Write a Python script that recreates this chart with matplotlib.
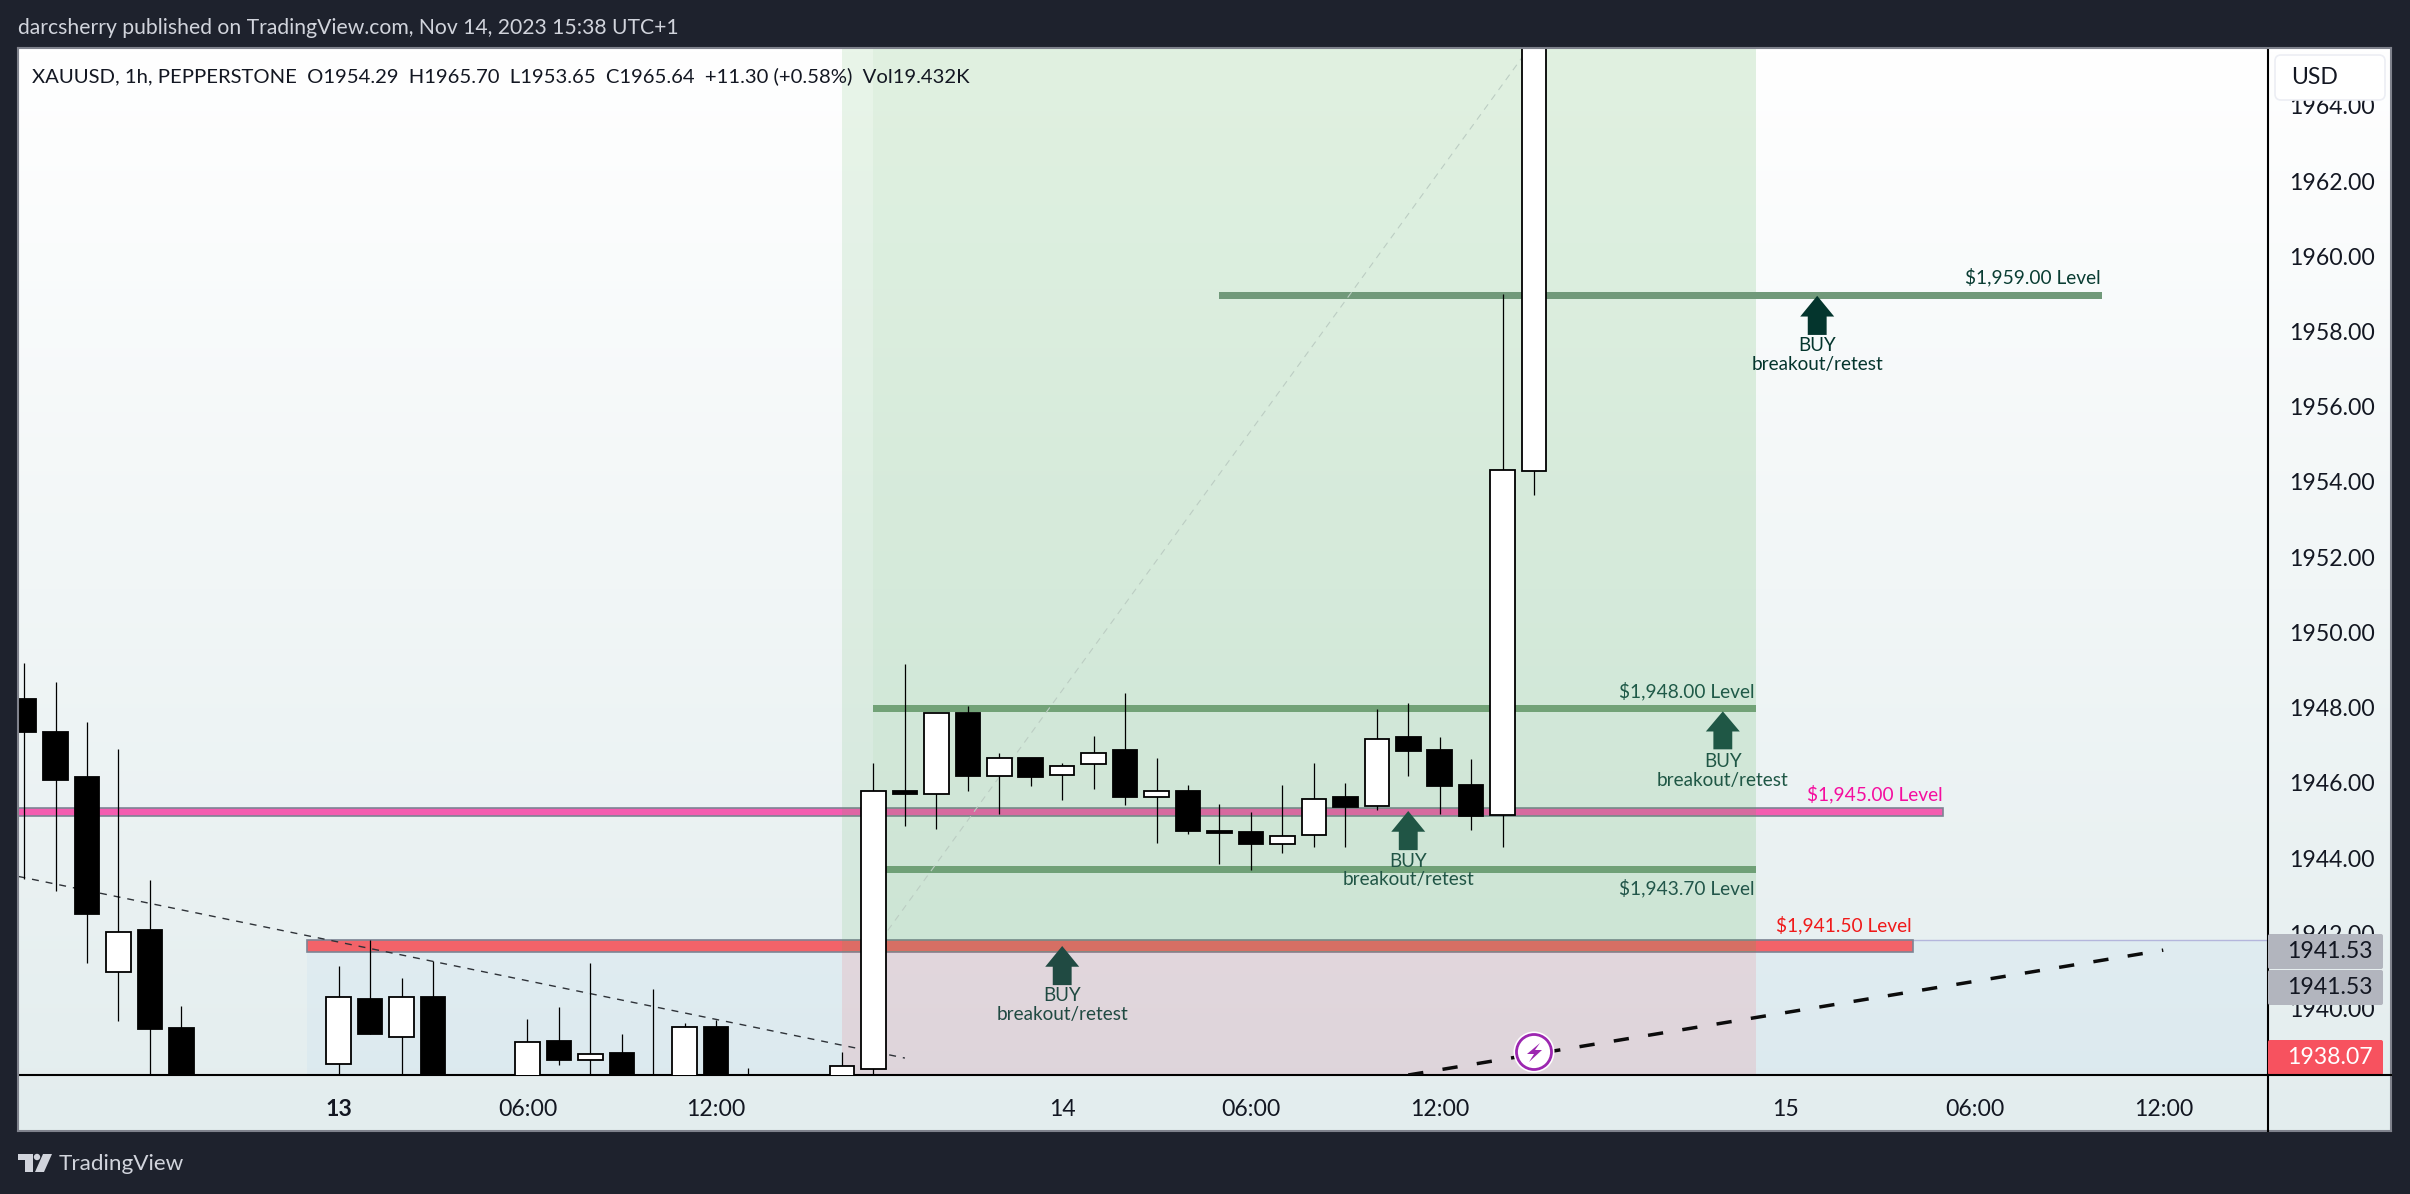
import numpy as np
import matplotlib
matplotlib.use("Agg")
import matplotlib.pyplot as plt
from matplotlib.patches import Rectangle, Circle, Polygon, FancyBboxPatch

W, H = 2410, 1194
BG = "#1e222d"
FONT = "Lato"
plt.rcParams["font.family"] = [FONT, "DejaVu Sans"]

# ---------- data ----------
bar_index = [-10, -9, -8, -7, -6, -5, 0, 1, 2, 3, 6, 7, 8, 9, 10, 11, 12, 13, 16, 17, 18, 19, 20, 21, 22,
             23, 24, 25, 26, 27, 28, 29, 30, 31, 32, 33, 34, 35, 36, 37, 38]
opens = [1948.23, 1947.36, 1946.15, 1940.97, 1942.08, 1939.48, 1938.51, 1940.25, 1939.25, 1940.31, 1937.6,
         1939.13, 1938.63, 1938.81, 1937.6, 1937.6, 1939.51, 1937.8, 1937.9, 1938.40, 1945.78, 1945.71, 1947.86,
         1946.19, 1946.66, 1946.22, 1946.51, 1946.87, 1945.62, 1945.78, 1944.71, 1944.69, 1944.38, 1944.60,
         1945.62, 1945.37, 1947.22, 1946.87, 1945.94, 1945.14, 1954.29]
highs = [1949.19, 1948.68, 1947.62, 1946.90, 1943.42, 1940.06, 1941.13, 1941.81, 1940.81, 1941.25, 1939.72,
         1940.03, 1941.21, 1939.32, 1940.51, 1939.60, 1939.70, 1938.42, 1938.84, 1946.53, 1949.16, 1947.85, 1948.04,
         1946.79, 1946.66, 1946.53, 1947.25, 1948.39, 1946.66, 1945.94, 1945.44, 1945.23, 1945.94, 1946.53,
         1946.00, 1947.97, 1948.12, 1947.22, 1946.63, 1959.00, 1965.70]
lows = [1943.43, 1943.13, 1941.21, 1939.67, 1937.5, 1937.0, 1937.8, 1939.32, 1937.8, 1937.0, 1937.5,
        1938.50, 1937.8, 1937.0, 1937.0, 1937.2, 1937.0, 1937.2, 1937.5, 1937.9, 1944.86, 1944.78, 1945.77,
        1945.17, 1945.92, 1945.54, 1945.84, 1945.41, 1944.40, 1944.64, 1943.84, 1943.68, 1944.13, 1944.29,
        1944.29, 1945.28, 1946.18, 1945.17, 1944.75, 1944.29, 1953.65]
closes = [1947.36, 1946.08, 1942.50, 1942.03, 1939.46, 1937.6, 1940.30, 1939.32, 1940.30, 1937.6, 1939.12,
          1938.63, 1938.80, 1937.6, 1937.4, 1939.50, 1937.6, 1937.6, 1938.46, 1945.78, 1945.70, 1947.85, 1946.18,
          1946.65, 1946.16, 1946.44, 1946.79, 1945.63, 1945.78, 1944.72, 1944.67, 1944.37, 1944.58, 1945.56,
          1945.36, 1947.16, 1946.85, 1945.92, 1945.12, 1954.33, 1965.64]

price_ticks = [1940, 1942, 1944, 1946, 1948, 1950, 1952, 1954, 1956, 1958, 1960, 1962, 1964]
time_tick_pos = [0, 6, 12, 23, 29, 35, 46, 52, 58]
time_tick_lab = ["13", "06:00", "12:00", "14", "06:00", "12:00", "15", "06:00", "12:00"]
bold_ticks = ["13"]

# level bands: x start, x end, low, high, colour
level_bands = [
    (-11, 51.0, 1945.13, 1945.33, "#f45db0"),
    (-1.0, 50.03, 1941.51, 1941.81, "#f26369"),
]
green_bands = [
    (17, 45.05, 1947.87, 1948.06, "#72a277"),
    (17, 45.05, 1943.59, 1943.78, "#6fa077"),
    (28, 56.05, 1958.87, 1959.05, "#71997a"),
]
level_text = ["$1,959.00 Level", "$1,948.00 Level", "$1,945.00 Level", "$1,943.70 Level", "$1,941.50 Level"]
level_text_x = [56.0, 45.0, 51.0, 45.0, 50.0]
level_text_y = [1959.46, 1948.44, 1945.71, 1943.20, 1942.22]
level_text_c = ["#0a3d33", "#1f5a48", "#f50e9f", "#22564a", "#f01a1a"]

arrow_x = [23, 34, 44, 47]
arrow_tip = [1941.66, 1945.25, 1947.90, 1958.95]
arrow_base = [1940.62, 1944.21, 1946.89, 1957.91]
arrow_c = ["#204a42", "#205545", "#1f5745", "#04352d"]
buy_y = [1940.34, 1943.92, 1946.57, 1957.62]
brk_y = [1939.84, 1943.42, 1946.07, 1957.13]

desc_x, desc_y = [-10.18, 18.0], [1943.51, 1938.68]
rise_x, rise_y = [34.0, 58.0], [1938.23, 1941.55]
diag_x, diag_y = [17.0, 37.7], [1941.55, 1965.38]

tags = ["1941.53", "1941.53", "1938.07"]

# ---------- layout ----------
def axpx(x0, y0, x1, y1, **kw):
    return fig.add_axes([x0 / W, 1 - y1 / H, (x1 - x0) / W, (y1 - y0) / H], **kw)

fig = plt.figure(figsize=(W / 100, H / 100), dpi=100, facecolor=BG)
PL, PT, PR, PB, AR, TB = 18.4, 48, 2268, 1075, 2391, 1131

bg = axpx(PL, PT, AR, TB, zorder=0)
grad = np.linspace(0, 1, 256)[:, None, None] * np.array([227 - 255, 237 - 255, 238 - 255]) + 255
bg.imshow(grad.astype(np.uint8), aspect="auto", extent=(0, 1, 0, 1))
bg.set_axis_off()

ax = axpx(PL, PT, PR, PB, zorder=2)
ax.patch.set_alpha(0)
ax.set_xlim(-10.18, 61.33)
ax.set_ylim(1938.23, 1965.54)
for s in ("left", "top"):
    ax.spines[s].set_visible(False)
for s in ("right", "bottom"):
    ax.spines[s].set_color("black")
    ax.spines[s].set_linewidth(1.5)
ax.yaxis.tick_right()
ax.set_yticks(price_ticks, [f"{p:.2f}" for p in price_ticks])
ax.set_xticks(time_tick_pos, time_tick_lab)
ax.tick_params(axis="both", length=0, labelcolor="#131722", labelsize=16.6)
ax.tick_params(axis="y", pad=15.5)
ax.tick_params(axis="x", pad=17)
for t in ax.get_xticklabels():
    if t.get_text() in bold_ticks:
        t.set_fontweight("bold")

XMAX = 61.33
YMIN = 1938.23
# zones
ax.add_patch(Rectangle((-1, YMIN), XMAX + 1, 1941.81 - YMIN, fc="#2196f3", alpha=0.04, lw=0, zorder=1))
ax.plot([-1, XMAX], [1941.81, 1941.81], color="#b4b6dc", lw=1.0, zorder=1.2)
for x0, x1, lo, hi, c in level_bands:
    ax.add_patch(Rectangle((x0, lo), x1 - x0, hi - lo, fc=c, ec="#7d8494", lw=1.2, zorder=1.5))
ax.add_patch(Rectangle((16, 1941.51), 1, 1966 - 1941.51, fc="#4caf50", alpha=0.12, lw=0, zorder=2))
ax.add_patch(Rectangle((17, 1941.51), 28.05, 1966 - 1941.51, fc="#4caf50", alpha=0.17, lw=0, zorder=2))
ax.add_patch(Rectangle((16, YMIN), 29.05, 1941.51 - YMIN, fc="#f23645", alpha=0.115, lw=0, zorder=2))
for x0, x1, lo, hi, c in green_bands:
    ax.add_patch(Rectangle((x0, lo), x1 - x0, hi - lo, fc=c, lw=0, zorder=2.5))

# trend lines
ax.plot(diag_x, diag_y, color="#bccdc3", lw=0.8, ls=(0, (6, 5)), zorder=3)
ax.plot(desc_x, desc_y, color="#2e3238", lw=1.0, ls=(0, (5, 5)), zorder=3)
ax.plot(rise_x, rise_y, color="#0c0c0c", lw=2.5, ls=(0, (4.4, 5.6)), zorder=3)

# candles
bar_index_a = np.array(bar_index, float)
o, h, l, c = map(np.array, (opens, highs, lows, closes))
ax.vlines(bar_index_a, l, h, color="black", lw=0.9, zorder=4)
up = c >= o
ax.bar(bar_index_a, np.abs(c - o), bottom=np.minimum(o, c), width=0.78,
       color=np.where(up, "white", "black").tolist(), edgecolor="black", lw=1.3, zorder=5)

# arrows and labels
for x, tip, base, col, by, ky in zip(arrow_x, arrow_tip, arrow_base, arrow_c, buy_y, brk_y):
    neck = base + (tip - base) * 0.47
    xs = np.array([0, .54, .30, .30, -.30, -.30, -.54]) + x
    ys = [tip, neck, neck, base, base, neck, neck]
    ax.fill(xs, ys, color=col, lw=0, zorder=6)
    ax.text(x, by, "BUY", color=col, ha="center", va="center", fontsize=13.5, zorder=7)
    ax.text(x, ky, "breakout/retest", color=col, ha="center", va="center", fontsize=13.6, zorder=7)
for s, x, y, col in zip(level_text, level_text_x, level_text_y, level_text_c):
    ax.text(x, y, s, color=col, ha="right", va="center", fontsize=13.8, zorder=7)

# ---------- overlay in pixel coordinates ----------
ov = axpx(0, 0, W, H, zorder=5)
ov.set_xlim(0, W)
ov.set_ylim(H, 0)
ov.set_axis_off()
ov.patch.set_alpha(0)

# frame
frame = "#7f828c"
ov.plot([PL, AR], [PT, PT], color=frame, lw=1.5)
ov.plot([PL, PL], [PT, TB], color=frame, lw=1.5)
ov.plot([PL, AR], [TB, TB], color=frame, lw=1.5)
ov.plot([AR, AR], [PT, TB], color=frame, lw=1.5)
ov.plot([PR, AR], [PB, PB], color="black", lw=1.5)
ov.plot([PR, PR], [PB, TB], color="black", lw=1.5)

# header / footer text
ov.text(18, 28, "darcsherry published on TradingView.com, Nov 14, 2023 15:38 UTC+1",
        color="#d1d4dc", fontsize=15.2, va="center", ha="left")
ov.text(32, 76, "XAUUSD, 1h, PEPPERSTONE  O1954.29  H1965.70  L1953.65  C1965.64  +11.30 (+0.58%)  Vol19.432K",
        color="#131722", fontsize=14.6, va="center", ha="left")
ov.text(59, 1164, "TradingView", color="#d1d4dc", fontsize=16.2, va="center", ha="left")

# logo
lc = "#d1d4dc"
ov.add_patch(Polygon([(18.4, 1154), (33, 1154), (33, 1172), (25, 1172), (25, 1160), (18.4, 1160)], fc=lc, lw=0))
ov.add_patch(Circle((37, 1157), 3.2, fc=lc, lw=0))
ov.add_patch(Polygon([(43, 1154), (52, 1154), (44, 1172), (35, 1172)], fc=lc, lw=0))

# USD button
ov.add_patch(FancyBboxPatch((2277, 57), 106, 41, boxstyle="round,pad=2,rounding_size=6",
                            fc="white", ec="#eceef4", lw=1.2))
ov.text(2291, 78, "USD", color="#131722", fontsize=16.6, va="center", ha="left")

# price tags
for (y0, y1, fc, tc), s in zip([(934, 969, "#b2b5be", "#131722"), (970, 1005, "#b2b5be", "#131722"),
                                (1040, 1075, "#f7525f", "white")], tags):
    ov.add_patch(FancyBboxPatch((2269, y0 + 1), 113, y1 - y0 - 2, boxstyle="round,pad=1,rounding_size=2",
                                fc=fc, lw=0))
    ov.text(2329.5, (y0 + y1) / 2, s, color=tc, fontsize=16.6, ha="center", va="center")

# lightning badge
ov.add_patch(Circle((1534, 1052), 20.5, fc="white", lw=0))
ov.add_patch(Circle((1534, 1052), 17.5, fc="white", ec="#9c27b0", lw=2.0))
ov.add_patch(Polygon([(1540, 1043), (1527, 1054), (1534, 1054), (1529, 1062), (1542, 1050), (1535, 1050)],
                     fc="#9c27b0", lw=0))

fig.savefig("out.png", dpi=100, facecolor=BG)
